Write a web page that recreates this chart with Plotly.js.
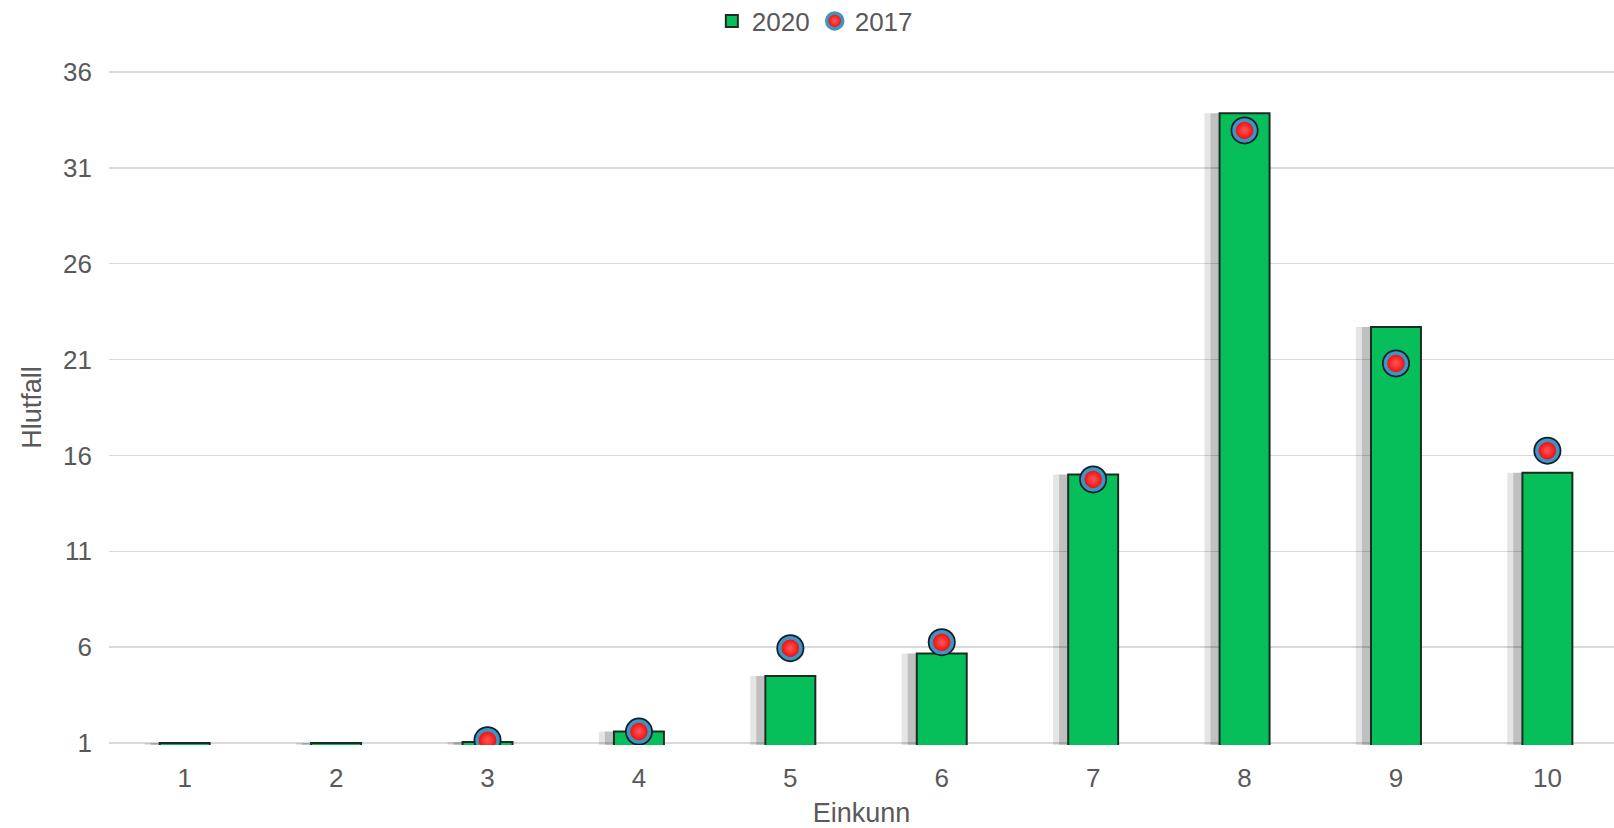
<!DOCTYPE html>
<html>
<head>
<meta charset="utf-8">
<script src="https://cdn.plot.ly/plotly-3.0.1.min.js"></script>
<style>html,body{margin:0;padding:0;background:#fff;}#chart{width:1614px;height:828px;}</style>
</head>
<body>
<div id="chart"></div>
<script>
// Data
const categories = [1, 2, 3, 4, 5, 6, 7, 8, 9, 10];
const values2020 = [1.0, 1.0, 1.05, 1.6, 4.5, 5.67, 15.0, 33.85, 22.7, 15.1];
const values2017 = [null, null, 1.15, 1.6, 5.95, 6.26, 14.75, 32.95, 20.8, 16.25];
const yTicks = [1, 6, 11, 16, 21, 26, 31, 36];

const FAM = 'Liberation Sans, Arial, sans-serif';
const GREY = '#595959';

const traces = [
  {
    type: 'bar', x: categories, y: values2020,
    width: 0.33, offset: -0.265,
    marker: {color: 'rgba(0,0,0,0.10)', line: {width: 0}},
    showlegend: false, hoverinfo: 'skip'
  },
  {
    type: 'bar', x: categories, y: values2020,
    width: 0.33, offset: -0.225,
    marker: {color: 'rgba(0,0,0,0.16)', line: {width: 0}},
    showlegend: false, hoverinfo: 'skip'
  },
  {
    type: 'bar', name: '2020', x: categories, y: values2020,
    width: 0.33, offset: -0.165,
    marker: {color: '#07bf5a', line: {color: '#1b2d22', width: 2}}
  },
  {
    type: 'scatter', mode: 'markers', x: categories, y: values2017,
    marker: {symbol: 'circle', size: 28, color: '#10212d', line: {width: 0}},
    showlegend: false, hoverinfo: 'skip'
  },
  {
    type: 'scatter', mode: 'markers', name: '2017', x: categories, y: values2017,
    marker: {
      symbol: 'circle', size: 21, color: '#ee0000',
      gradient: {type: 'radial', color: '#ff5a5a'},
      line: {color: '#3f95c2', width: 3.5}
    }
  }
];

const layout = {
  width: 1614, height: 828,
  paper_bgcolor: '#ffffff', plot_bgcolor: '#ffffff',
  margin: {l: 109, r: 0, t: 70, b: 83, autoexpand: false},
  barmode: 'overlay',
  font: {family: FAM, color: GREY},
  showlegend: true,
  legend: {
    orientation: 'h', x: 0.469, xanchor: 'center', y: 1.0726, yanchor: 'middle',
    font: {family: FAM, color: GREY, size: 26},
    itemwidth: 30, tracegroupgap: 0, traceorder: 'normal'
  },
  xaxis: {
    range: [0.5, 10.44],
    tickmode: 'array', tickvals: categories, ticktext: categories.map(String),
    showgrid: false, zeroline: false, showline: false, ticks: '',
    tickfont: {family: FAM, color: GREY, size: 26},
    ticklabelstandoff: 15,
    title: {text: 'Einkunn', font: {family: FAM, color: GREY, size: 27}, standoff: 12},
    automargin: false
  },
  yaxis: {
    range: [0.9, 36.1],
    tickmode: 'array', tickvals: yTicks, ticktext: yTicks.map(String),
    showgrid: true, gridcolor: '#d9d9d9', gridwidth: 1.5,
    zeroline: false, showline: false, ticks: '',
    tickfont: {family: FAM, color: GREY, size: 26},
    ticklabelstandoff: 16,
    title: {text: 'Hlutfall', font: {family: FAM, color: GREY, size: 27}, standoff: 13},
    automargin: false
  }
};

Plotly.newPlot('chart', traces, layout, {displayModeBar: false, staticPlot: true});
</script>
</body>
</html>
